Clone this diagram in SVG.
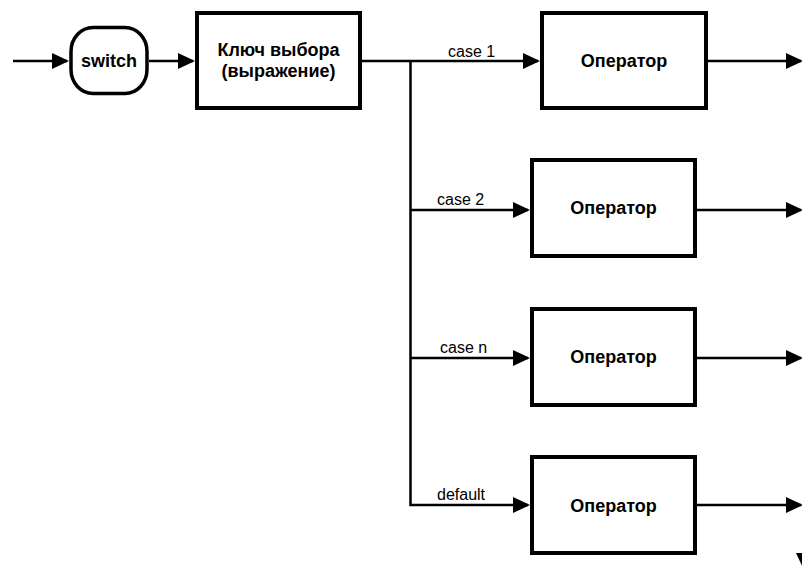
<svg xmlns="http://www.w3.org/2000/svg" width="802" height="567" viewBox="0 0 802 567">
  <style>
    .node { fill: #ffffff; stroke: #000000; stroke-width: 4; }
    .term { fill: #ffffff; stroke: #000000; stroke-width: 3.5; }
    .title { font-family: "Liberation Sans", Arial, sans-serif; font-size: 18px; font-weight: bold; fill: #000000; text-anchor: middle; }
    .label { font-family: "Liberation Sans", Arial, sans-serif; font-size: 16px; fill: #000000; }
    .wire { fill: none; stroke: #000000; stroke-width: 2.5; stroke-linejoin: miter; marker-end: url(#arrow); }
  </style>
  <defs>
    <marker id="arrow" markerUnits="userSpaceOnUse" markerWidth="18" markerHeight="17" refX="15" refY="8" orient="auto">
      <path d="M0,0 L17,8 L0,16 z" fill="#000000"/>
    </marker>
  </defs>

  <!-- connectors -->
  <g id="connectors">
    <path class="wire" d="M13,61 H67"/>
    <path class="wire" d="M149,61 H193"/>
    <path class="wire" d="M362,61 H538"/>
    <path class="wire" d="M410.5,61 V505 H528"/>
    <path class="wire" d="M410.5,210 H528"/>
    <path class="wire" d="M410.5,358 H528"/>
    <path class="wire" d="M708,61 H801"/>
    <path class="wire" d="M697,210 H801"/>
    <path class="wire" d="M697,358 H801"/>
    <path class="wire" d="M697,505 H801"/>
    <polygon points="796,553 812,553 804,570" fill="#000000"/>
    <text class="label" x="448" y="56.5">case 1</text>
    <text class="label" x="437" y="205">case 2</text>
    <text class="label" x="440" y="353">case n</text>
    <text class="label" x="437" y="500">default</text>
  </g>

  <!-- start terminal -->
  <g id="switch">
    <rect class="term" x="71" y="27.5" width="76" height="66" rx="22" ry="24"/>
    <text class="title" x="109" y="66.5">switch</text>
  </g>

  <!-- selector expression -->
  <g id="key">
    <rect class="node" x="197" y="13" width="163" height="95"/>
    <text class="title" x="278.5" y="56">Ключ выбора</text>
    <text class="title" x="278.5" y="77">(выражение)</text>
  </g>

  <!-- branch statements -->
  <g id="op1">
    <rect class="node" x="542" y="13" width="164" height="95"/>
    <text class="title" x="624" y="66.5">Оператор</text>
  </g>
  <g id="op2">
    <rect class="node" x="532" y="160" width="163" height="96"/>
    <text class="title" x="613.5" y="214">Оператор</text>
  </g>
  <g id="opn">
    <rect class="node" x="532" y="309" width="163" height="96"/>
    <text class="title" x="613.5" y="362.5">Оператор</text>
  </g>
  <g id="opdefault">
    <rect class="node" x="532" y="457" width="163" height="96"/>
    <text class="title" x="613.5" y="511.5">Оператор</text>
  </g>
</svg>
